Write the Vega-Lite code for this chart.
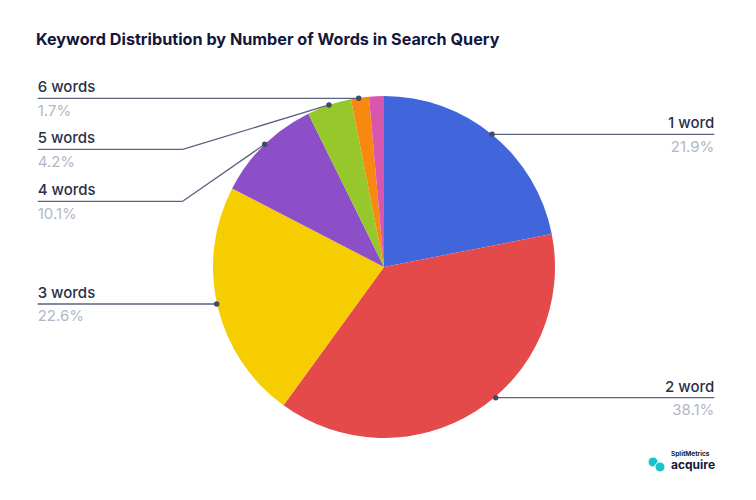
{
  "$schema": "https://vega.github.io/schema/vega-lite/v6.json",
  "width": 756,
  "height": 440,
  "autosize": {"type": "none"},
  "padding": {"top": 60, "left": 0, "right": 0, "bottom": 0},
  "background": "white",
  "title": {
    "text": "Keyword Distribution by Number of Words in Search Query",
    "anchor": "start",
    "frame": "group",
    "dx": 36,
    "offset": 12,
    "font": "Inter",
    "fontSize": 16.2,
    "fontWeight": "bold",
    "color": "#15163a"
  },
  "config": {"view": {"stroke": null}},
  "datasets": {
    "slices": [
      {"category": "1 word", "share": 21.9, "order": 1},
      {"category": "2 word", "share": 38.1, "order": 2},
      {"category": "3 words", "share": 22.6, "order": 3},
      {"category": "4 words", "share": 10.1, "order": 4},
      {"category": "5 words", "share": 4.2, "order": 5},
      {"category": "6 words", "share": 1.7, "order": 6},
      {"category": "7+ words", "share": 1.4, "order": 7}
    ],
    "leaders": [
      {"label": "1 word", "pct": "21.9%", "side": "right", "ax": 0.6316, "ay": 0.776, "ex": 0.6316, "ey": 0.776, "tx": 1.9316},
      {"label": "2 word", "pct": "38.1%", "side": "right", "ax": 0.6532, "ay": -0.7643, "ex": 0.6532, "ey": -0.7643, "tx": 1.9316},
      {"label": "3 words", "pct": "22.6%", "side": "left", "ax": -0.9784, "ay": -0.2164, "ex": -0.9784, "ey": -0.2164, "tx": -2.0251},
      {"label": "4 words", "pct": "10.1%", "side": "left", "ax": -0.6977, "ay": 0.7175, "ex": -1.1772, "ey": 0.3842, "tx": -2.0251},
      {"label": "5 words", "pct": "4.2%", "side": "left", "ax": -0.3216, "ay": 0.9474, "ex": -1.1772, "ey": 0.6883, "tx": -2.0251},
      {"label": "6 words", "pct": "1.7%", "side": "left", "ax": -0.148, "ay": 0.9865, "ex": -0.148, "ey": 0.9865, "tx": -2.0251}
    ]
  },
  "encoding": {
    "x": {"type": "quantitative", "scale": {"domain": [-2.2456, 2.1754], "nice": false, "zero": false}, "axis": null},
    "y": {"type": "quantitative", "scale": {"domain": [-1.3626, 1.2105], "nice": false, "zero": false}, "axis": null}
  },
  "layer": [
    {
      "data": {"name": "slices"},
      "mark": {"type": "arc", "outerRadius": 171},
      "encoding": {
        "x": {"datum": 0, "type": "quantitative"},
        "y": {"datum": 0, "type": "quantitative"},
        "theta": {"field": "share", "type": "quantitative", "stack": true},
        "order": {"field": "order", "type": "quantitative"},
        "color": {
          "field": "category",
          "type": "nominal",
          "legend": null,
          "scale": {
            "domain": ["1 word", "2 word", "3 words", "4 words", "5 words", "6 words", "7+ words"],
            "range": ["#4166dc", "#e54a4a", "#f6cd00", "#8d4fc8", "#96c82c", "#f7890f", "#d857ad"]
          }
        }
      }
    },
    {
      "data": {"name": "leaders"},
      "mark": {"type": "rule", "color": "#5d6280", "strokeWidth": 1.3},
      "encoding": {
        "x": {"field": "ax", "type": "quantitative"},
        "y": {"field": "ay", "type": "quantitative"},
        "x2": {"field": "ex"},
        "y2": {"field": "ey"}
      }
    },
    {
      "data": {"name": "leaders"},
      "mark": {"type": "rule", "color": "#5d6280", "strokeWidth": 1.3},
      "encoding": {
        "x": {"field": "ex", "type": "quantitative"},
        "y": {"field": "ey", "type": "quantitative"},
        "x2": {"field": "tx"}
      }
    },
    {
      "data": {"name": "leaders"},
      "mark": {"type": "point", "filled": true, "size": 30, "color": "#454a66", "opacity": 1},
      "encoding": {
        "x": {"field": "ax", "type": "quantitative"},
        "y": {"field": "ay", "type": "quantitative"}
      }
    },
    {
      "data": {"name": "leaders"},
      "transform": [{"filter": "datum.side == 'left'"}],
      "mark": {"type": "text", "align": "left", "baseline": "alphabetic", "dy": -6, "font": "Inter", "fontSize": 15, "fontWeight": 500, "color": "#2c2f47"},
      "encoding": {
        "x": {"field": "tx", "type": "quantitative"},
        "y": {"field": "ey", "type": "quantitative"},
        "text": {"field": "label"}
      }
    },
    {
      "data": {"name": "leaders"},
      "transform": [{"filter": "datum.side == 'left'"}],
      "mark": {"type": "text", "align": "left", "baseline": "alphabetic", "dy": 17.5, "font": "Inter", "fontSize": 15, "color": "#b3b6c8"},
      "encoding": {
        "x": {"field": "tx", "type": "quantitative"},
        "y": {"field": "ey", "type": "quantitative"},
        "text": {"field": "pct"}
      }
    },
    {
      "data": {"name": "leaders"},
      "transform": [{"filter": "datum.side == 'right'"}],
      "mark": {"type": "text", "align": "right", "baseline": "alphabetic", "dy": -6, "font": "Inter", "fontSize": 15, "fontWeight": 500, "color": "#2c2f47"},
      "encoding": {
        "x": {"field": "tx", "type": "quantitative"},
        "y": {"field": "ey", "type": "quantitative"},
        "text": {"field": "label"}
      }
    },
    {
      "data": {"name": "leaders"},
      "transform": [{"filter": "datum.side == 'right'"}],
      "mark": {"type": "text", "align": "right", "baseline": "alphabetic", "dy": 17.5, "font": "Inter", "fontSize": 15, "color": "#b3b6c8"},
      "encoding": {
        "x": {"field": "tx", "type": "quantitative"},
        "y": {"field": "ey", "type": "quantitative"},
        "text": {"field": "pct"}
      }
    },
    {
      "data": {"values": [{"cx": 1.5731, "cy": -1.1404}, {"cx": 1.614, "cy": -1.1696}]},
      "mark": {"type": "point", "filled": true, "size": 100, "color": "#19c3c9", "stroke": "white", "strokeWidth": 1, "opacity": 1},
      "encoding": {
        "x": {"field": "cx", "type": "quantitative"},
        "y": {"field": "cy", "type": "quantitative"}
      }
    },
    {
      "data": {"values": [{"brand": "SplitMetrics", "lx": 1.6784, "ly": -1.1082, "size": 6.5}, {"brand": "acquire", "lx": 1.6784, "ly": -1.1842, "size": 12}]},
      "mark": {"type": "text", "align": "left", "baseline": "alphabetic", "font": "Inter", "fontWeight": "bold", "color": "#15163a"},
      "encoding": {
        "x": {"field": "lx", "type": "quantitative"},
        "y": {"field": "ly", "type": "quantitative"},
        "text": {"field": "brand"},
        "size": {"field": "size", "type": "quantitative", "scale": null, "legend": null}
      }
    }
  ]
}
